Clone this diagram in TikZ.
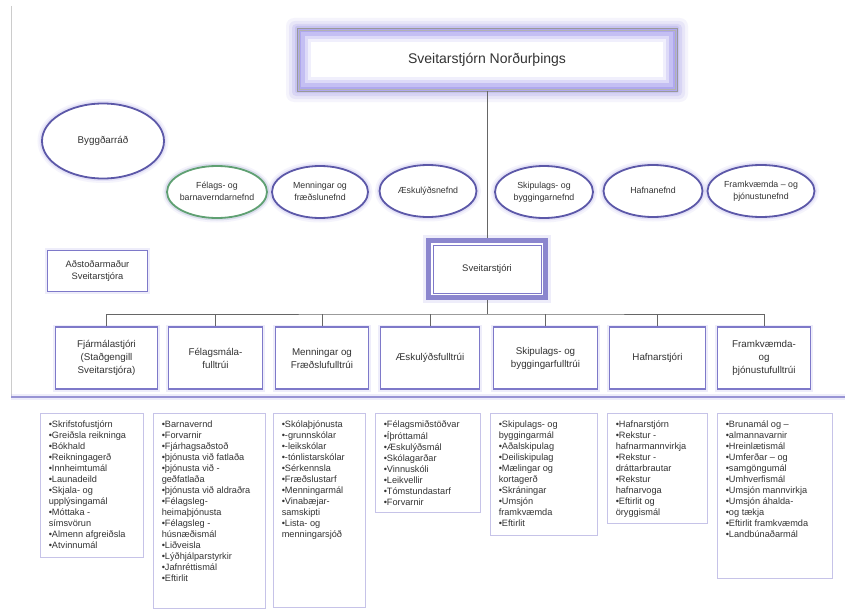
\documentclass[tikz,border=0pt]{standalone}
\usepackage{fontspec}
\setmainfont{Liberation Sans}
\usetikzlibrary{shapes.geometric,calc}
\definecolor{txt}{HTML}{333333}
\definecolor{ovc}{HTML}{5C58A8}
\definecolor{grc}{HTML}{5FA072}
\definecolor{boxc}{HTML}{7E79C9}
\definecolor{glowc}{HTML}{A29CE6}
\definecolor{listc}{HTML}{C6C3E8}
\definecolor{connc}{HTML}{666666}
\definecolor{lavA}{HTML}{AFA8EE}
\definecolor{lavB}{HTML}{C4BFF3}
\definecolor{lavC}{HTML}{DDDAF8}
\definecolor{lavD}{HTML}{F0EFFC}
\newcommand\ctrtxt[1]{\makebox[0pt]{\begin{tabular}{@{}c@{}}#1\end{tabular}}}
\begin{document}
\begin{tikzpicture}[x=1pt,y=-1pt,
  every node/.style={text=txt, inner sep=0pt, align=center},
  glowA/.style={preaction={draw=glowc,line width=9pt,draw opacity=0.10},
                preaction={draw=glowc,line width=5pt,draw opacity=0.20}},
  oval/.style={ellipse, draw=ovc, line width=1.8pt, fill=white, glowA,
               minimum height=52pt, minimum width=#1, font=\fontsize{8.8}{12}\selectfont},
  rowbox/.style={rectangle, draw=boxc, line width=1.6pt, fill=white,
               preaction={draw=glowc,line width=5pt,draw opacity=0.18},
               minimum height=62pt, minimum width=#1, font=\fontsize{9.8}{13}\selectfont},
  listbox/.style={rectangle, draw=listc, line width=0.9pt, fill=white},
  listtxt/.style={anchor=north west, align=left, font=\fontsize{9.2}{11}\selectfont},
  conn/.style={draw=connc, line width=0.8pt}]
\useasboundingbox (0,0) rectangle (845,610);
\fill[white] (0,0) rectangle (845,610);
% left frame line
\draw[black!20, line width=0.6pt] (11,6) -- (11,397);

% ---- top box: Sveitarstjórn Norðurþings ----
\fill[glowc, opacity=0.10, rounded corners=8pt] (286,18) rectangle (688,102);
\fill[glowc, opacity=0.15, rounded corners=6pt] (289,21) rectangle (685,99);
\fill[glowc, opacity=0.22, rounded corners=4pt] (292,24) rectangle (682,96);
\fill[glowc, opacity=0.30, rounded corners=2pt] (295,26) rectangle (679,93);
\fill[lavA] (297,28) rectangle (677,91);
\fill[lavB] (301,32) rectangle (673,87);
\fill[lavC] (305,36) rectangle (669,83);
\fill[lavD] (308,39) rectangle (666,80);
\fill[white] (311,42) rectangle (663,77);
\node[rectangle, draw=black!40, line width=0.6pt, minimum width=380pt, minimum height=63pt,
      font=\fontsize{14}{16}\selectfont] (top) at (487,59.5) {Sveitarstjórn Norðurþings};
\draw[black!30, line width=0.5pt] ($(top.north west)+(2.5,2.5)$) rectangle ($(top.south east)+(-2.5,-2.5)$);

% ---- Sveitarstjóri ----
\node[rectangle, draw=boxc!90, line width=5pt, fill=white,
      preaction={draw=glowc,line width=11pt,draw opacity=0.18},
      minimum width=117pt, minimum height=57pt, font=\fontsize{9.5}{12}\selectfont] (soti) at (487,269) {Sveitarstjóri};
\draw[boxc, line width=0.8pt] ($(soti.north west)+(7,7)$) rectangle ($(soti.south east)+(-7,-7)$);

\draw[conn] (top.south) -- (soti.north);

% ---- Byggðarráð and Aðstoðarmaður ----
\node[ellipse, draw=ovc, line width=1.8pt, fill=white, glowA, minimum width=122pt, minimum height=75pt,
      font=\fontsize{9.8}{12}\selectfont] (byggd) at (103,141) {Byggðarráð};
\node[rectangle, draw=boxc, line width=1.5pt, fill=white,
      preaction={draw=glowc,line width=5pt,draw opacity=0.18},
      minimum width=100pt, minimum height=41pt, font=\fontsize{9.3}{12}\selectfont] (adst) at (97.5,271) {Aðstoðarmaður\\Sveitarstjóra};

% ---- committees ----
\node[oval=100pt, draw=grc, preaction={draw=grc!60,line width=5pt,draw opacity=0.15}] (n1) at (217,192) {\ctrtxt{Félags- og\\barnaverndarnefnd}};
\node[oval=96pt]  (n2) at (320,192) {\ctrtxt{Menningar og\\fræðslunefnd}};
\node[oval=97pt]  (n3) at (428,191) {\ctrtxt{Æskulýðsnefnd}};
\node[oval=98pt]  (n4) at (544,192) {\ctrtxt{Skipulags- og\\byggingarnefnd}};
\node[oval=99pt]  (n5) at (653,191) {\ctrtxt{Hafnanefnd}};
\node[oval=107pt] (n6) at (761,191) {\ctrtxt{Framkvæmda – og\\þjónustunefnd}};

% ---- row of officers ----
\node[rowbox=102pt] (r1) at (106.5,358) {Fjármálastjóri\\(Staðgengill\\Sveitarstjóra)};
\node[rowbox=94pt]  (r2) at (215.5,358) {Félagsmála-\\fulltrúi};
\node[rowbox=93pt]  (r3) at (322,358)   {Menningar og\\Fræðslufulltrúi};
\node[rowbox=99pt]  (r4) at (430,358)   {Æskulýðsfulltrúi};
\node[rowbox=104pt] (r5) at (545.5,358) {Skipulags- og\\byggingarfulltrúi};
\node[rowbox=96pt]  (r6) at (657.5,358) {Hafnarstjóri};
\node[rowbox=93pt]  (r7) at (764,358)   {Framkvæmda-\\og\\þjónustufulltrúi};

\coordinate (bus) at (487,314);
\draw[conn] (soti.south) -- (bus);
\draw[conn] (r1.north) |- (bus) -| (r7.north);
\foreach \r in {r2,r3,r4,r5,r6} \draw[conn] (\r.north) -- (\r.north |- bus);

% ---- divider ----
\coordinate (dl) at (11,397);
\coordinate (dr) at (845,397);
\draw[glowc, line width=6pt, draw opacity=0.18] (dl) -- (dr);
\draw[boxc!80, line width=2pt] (dl) -- (dr);

% ---- lists ----
\node[listbox, minimum width=103pt, minimum height=144pt] (L1) at (91.5,485) {};
\node[listtxt] (t1) at ($(L1.north west)+(9,7)$) {\strut•Skrifstofustjórn\\•Greiðsla reikninga\\•Bókhald\\•Reikningagerð\\•Innheimtumál\\•Launadeild\\•Skjala- og\\upplýsingamál\\•Móttaka -\\símsvörun\\•Almenn afgreiðsla\\•Atvinnumál};

\node[listbox, minimum width=112pt, minimum height=195pt] (L2) at (209,510.5) {};
\node[listtxt] (t2) at ($(L2.north west)+(9,7)$) {\strut•Barnavernd\\•Forvarnir\\•Fjárhagsaðstoð\\•þjónusta við fatlaða\\•þjónusta við -\\geðfatlaða\\•þjónusta við aldraðra\\•Félagsleg-\\heimaþjónusta\\•Félagsleg -\\húsnæðismál\\•Liðveisla\\•Lýðhjálparstyrkir\\•Jafnréttismál\\•Eftirlit};

\node[listbox, minimum width=92pt, minimum height=194pt] (L3) at (319,510) {};
\node[listtxt] (t3) at ($(L3.north west)+(9,7)$) {\strut•Skólaþjónusta\\•-grunnskólar\\•-leikskólar\\•-tónlistarskólar\\•Sérkennsla\\•Fræðslustarf\\•Menningarmál\\•Vinabæjar-\\samskipti\\•Lista- og\\menningarsjóð};

\node[listbox, minimum width=105pt, minimum height=99pt] (L4) at (427.5,462.5) {};
\node[listtxt] (t4) at ($(L4.north west)+(9,7)$) {\strut•Félagsmiðstöðvar\\•Íþróttamál\\•Æskulýðsmál\\•Skólagarðar\\•Vinnuskóli\\•Leikvellir\\•Tómstundastarf\\•Forvarnir};

\node[listbox, minimum width=107pt, minimum height=122pt] (L5) at (543.5,474) {};
\node[listtxt] (t5) at ($(L5.north west)+(9,7)$) {\strut•Skipulags- og\\byggingarmál\\•Aðalskipulag\\•Deiliskipulag\\•Mælingar og\\kortagerð\\•Skráningar\\•Umsjón\\framkvæmda\\•Eftirlit};

\node[listbox, minimum width=100pt, minimum height=110pt] (L6) at (657,468) {};
\node[listtxt] (t6) at ($(L6.north west)+(9,7)$) {\strut•Hafnarstjórn\\•Rekstur -\\hafnarmannvirkja\\•Rekstur -\\dráttarbrautar\\•Rekstur\\hafnarvoga\\•Eftirlit og\\öryggismál};

\node[listbox, minimum width=115pt, minimum height=165pt] (L7) at (774.5,495.5) {};
\node[listtxt] (t7) at ($(L7.north west)+(9,7)$) {\strut•Brunamál og –\\•almannavarnir\\•Hreinlætismál\\•Umferðar – og\\•samgöngumál\\•Umhverfismál\\•Umsjón mannvirkja\\•Umsjón áhalda-\\•og tækja\\•Eftirlit framkvæmda\\•Landbúnaðarmál};
\end{tikzpicture}
\end{document}
